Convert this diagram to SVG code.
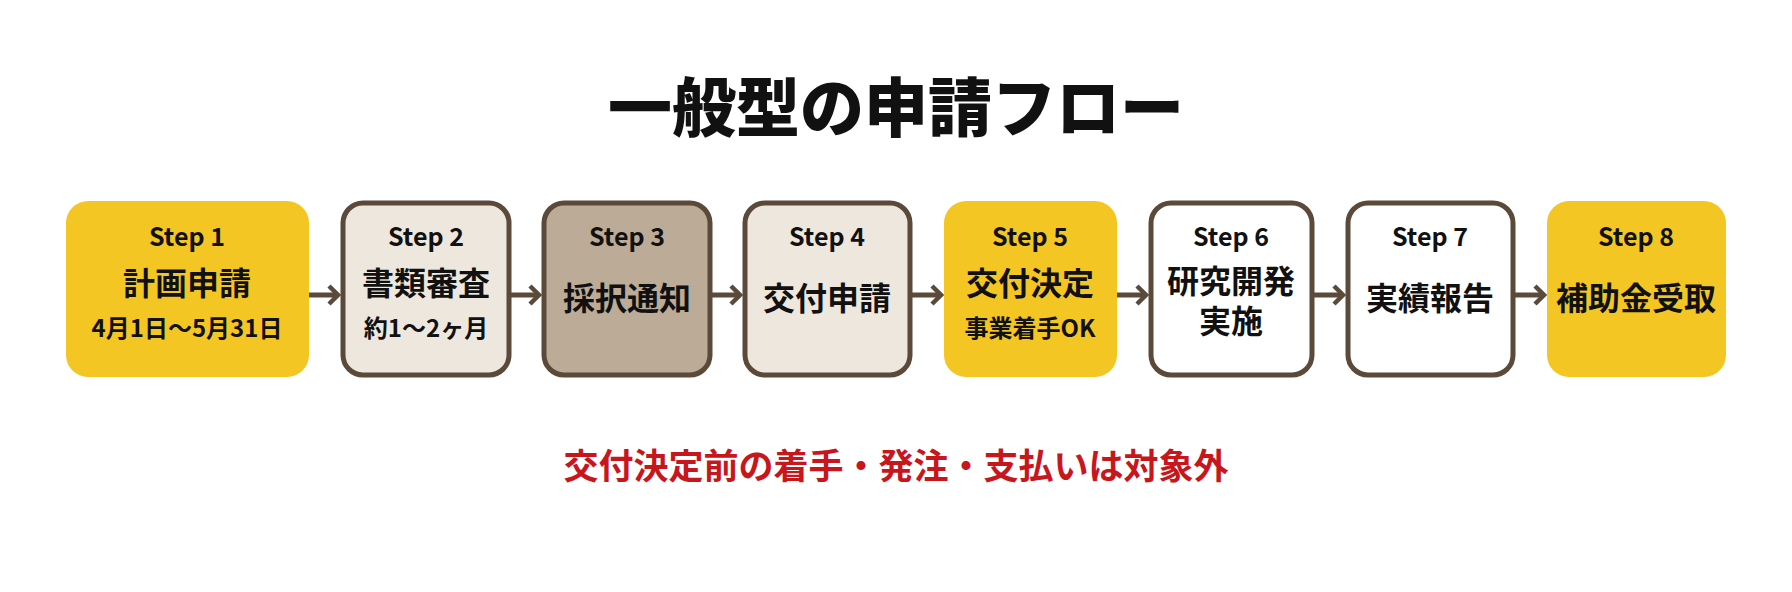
<svg xmlns="http://www.w3.org/2000/svg" width="1792" height="592" viewBox="0 0 1792 592">
<style>
text{font-family:"Noto Sans CJK JP","Noto Sans",sans-serif;font-weight:700;text-anchor:middle;fill:#111}
.st{font-size:25px}
.mn{font-size:32px}
.sb{font-size:24px}
.y{fill:#F4C623}
.b{stroke:#5B4A3A;stroke-width:5}
.a{stroke:#5B4A3A;stroke-width:5;fill:none}
</style>
<defs>
<marker id="ah" markerWidth="14" markerHeight="22" refX="11" refY="11" orient="auto" markerUnits="userSpaceOnUse">
<path d="M2 2 L11 11 L2 20" fill="none" stroke="#5B4A3A" stroke-width="4.5"/>
</marker>
</defs>
<rect width="1792" height="592" fill="#fff"/>
<text x="896" y="131" style="font-size:64px;font-weight:900">一般型の申請フロー</text>
<g id="connectors">
<line class="a" x1="309" y1="295" x2="338" y2="295" marker-end="url(#ah)"/>
<line class="a" x1="511" y1="295" x2="539" y2="295" marker-end="url(#ah)"/>
<line class="a" x1="712" y1="295" x2="740" y2="295" marker-end="url(#ah)"/>
<line class="a" x1="912" y1="295" x2="941" y2="295" marker-end="url(#ah)"/>
<line class="a" x1="1117" y1="295" x2="1146" y2="295" marker-end="url(#ah)"/>
<line class="a" x1="1314" y1="295" x2="1343" y2="295" marker-end="url(#ah)"/>
<line class="a" x1="1515" y1="295" x2="1544" y2="295" marker-end="url(#ah)"/>
</g>
<g id="step1"><rect class="y" x="66" y="201" width="243" height="176" rx="22"/>
<text class="st" x="187" y="246">Step 1</text><text class="mn" x="187" y="295">計画申請</text><text class="sb" x="187" y="337">4月1日〜5月31日</text></g>
<g id="step2"><rect class="b" x="343" y="203" width="166" height="172" rx="20" fill="#EEE7DD"/>
<text class="st" x="426" y="246">Step 2</text><text class="mn" x="426" y="295">書類審査</text><text class="sb" x="426" y="337">約1〜2ヶ月</text></g>
<g id="step3"><rect class="b" x="544" y="203" width="166" height="172" rx="20" fill="#BCAB96"/>
<text class="st" x="627" y="246">Step 3</text><text class="mn" x="627" y="310">採択通知</text></g>
<g id="step4"><rect class="b" x="745" y="203" width="165" height="172" rx="20" fill="#EEE7DD"/>
<text class="st" x="827" y="246">Step 4</text><text class="mn" x="827" y="310">交付申請</text></g>
<g id="step5"><rect class="y" x="944" y="201" width="173" height="176" rx="22"/>
<text class="st" x="1030" y="246">Step 5</text><text class="mn" x="1030" y="295">交付決定</text><text class="sb" x="1030" y="337">事業着手OK</text></g>
<g id="step6"><rect class="b" x="1151" y="203" width="161" height="172" rx="20" fill="#fff"/>
<text class="st" x="1231" y="246">Step 6</text><text class="mn" x="1231" y="293">研究開発</text><text class="mn" x="1231" y="333">実施</text></g>
<g id="step7"><rect class="b" x="1348" y="203" width="165" height="172" rx="20" fill="#fff"/>
<text class="st" x="1430" y="246">Step 7</text><text class="mn" x="1430" y="310">実績報告</text></g>
<g id="step8"><rect class="y" x="1547" y="201" width="179" height="176" rx="22"/>
<text class="st" x="1636" y="246">Step 8</text><text class="mn" x="1636" y="310">補助金受取</text></g>
<text x="896" y="479" style="font-size:35px;fill:#C8161D">交付決定前の着手・発注・支払いは対象外</text>
</svg>
